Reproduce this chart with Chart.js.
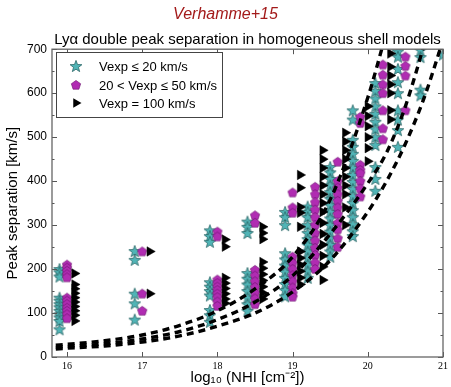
<!DOCTYPE html>
<html><head><meta charset="utf-8">
<script src="https://cdn.jsdelivr.net/npm/chart.js@4/dist/chart.umd.min.js"></script>
<style>html,body{margin:0;padding:0;background:#fff}#wrap{width:451px;height:387px}</style>
</head><body><div id="wrap"><canvas id="c" width="451" height="387"></canvas></div>
<script>
// ---- tick labels ----
const xTicks = [16, 17, 18, 19, 20, 21];
const yTicks = [0, 100, 200, 300, 400, 500, 600, 700];

// ---- Vexp <= 20 km/s (stars): column positions and values ----
const starCols = [15.9, 16.9, 17.9, 18.4, 18.9, 19.2, 19.5, 19.8, 20.1, 20.4, 20.7, 21.0];
const starVals = [
  [200, 193, 183, 135, 128, 120, 113, 105, 97, 90, 82, 63],
  [241, 221, 144, 122, 85],
  [288, 275, 262, 170, 160, 150, 140, 107, 95, 80],
  [308, 296, 282, 191, 178, 165, 150, 135, 120, 105],
  [330, 318, 300, 236, 222, 208, 194, 180, 166, 152, 138],
  [342, 330, 318, 300, 282, 268, 255, 240, 225, 210, 195, 180],
  [432, 420, 405, 390, 375, 360, 345, 330, 315, 300, 285, 270, 255, 240, 228],
  [561, 540, 494, 478, 462, 446, 430, 414, 398, 382, 366, 350, 334, 318, 302, 286, 275],
  [623, 605, 588, 570, 553, 535, 518, 500, 482, 432, 405, 378],
  [695, 683, 655, 625, 600, 561, 540, 516, 478],
  [698, 682, 608, 595],
  [688]
];

// ---- 20 < Vexp <= 50 km/s (pentagons) ----
const pentCols = [16.0, 17.0, 18.0, 18.5, 19.0, 19.3, 19.6, 19.9, 20.2, 20.5];
const pentVals = [
  [210, 203, 196, 188, 181, 135, 128, 120, 112, 105, 97, 88],
  [240, 144, 105],
  [285, 274, 176, 168, 160, 152, 144, 136, 126, 116],
  [322, 305, 198, 185, 172, 159, 146, 133, 120],
  [374, 340, 328, 228, 214, 200, 186, 172, 158, 145, 137],
  [387, 370, 352, 335, 318, 300, 282, 265, 248, 232, 215, 200],
  [444, 400, 385, 370, 355, 340, 325, 305, 290, 270, 250],
  [546, 532, 437, 425, 418, 400, 383, 365],
  [665, 642, 620, 600, 561, 520, 495],
  [683, 662, 640, 561]
];

// ---- Vexp = 100 km/s (triangles) ----
const triCols = [16.1, 17.1, 18.1, 18.6, 19.1, 19.4, 19.7, 20.0, 20.3];
const triVals = [
  [190, 165, 155, 145, 135, 125, 115, 105, 95, 82],
  [240, 144],
  [267, 251, 180, 168, 156, 144, 132, 122],
  [296, 282, 268, 216, 202, 188, 174, 160, 146, 132],
  [414, 385, 341, 328, 296, 240, 225, 210, 195, 180, 165],
  [470, 450, 430, 410, 390, 370, 350, 330, 305, 280, 255, 230, 205, 175],
  [510, 490, 470, 450, 430, 410, 390, 370, 340, 300],
  [570, 548, 525, 500, 475, 445],
  [690, 660, 640, 620, 600, 561, 540]
];

// ---- dashed model curves ----
const curveX = [15.85, 16, 16.5, 17, 17.5, 18, 18.5, 19, 19.5, 20, 20.25, 20.5, 20.75, 21];
const curveA = [27, 29, 37, 50, 72, 105, 155, 228, 358, 590, 740, null, null, null];
const curveB = [22, 24, 30, 41, 58, 85, 125, 185, 280, 395, 465, 570, 710, null];
const curveC = [18, 20, 25, 34, 48, 70, 100, 148, 220, 330, 400, 485, 590, 720];

function pts(cols, vals) {
  const out = [];
  cols.forEach((x, i) => vals[i].forEach(v => out.push({x: x, y: v})));
  return out;
}
function curve(ys) {
  const out = [];
  curveX.forEach((x, i) => { if (ys[i] !== null) out.push({x: x, y: ys[i]}); });
  return out;
}

const STAR_FILL = '#50B4B6', STAR_EDGE = '#2A6666';
const PENT_FILL = '#B02CB2', PENT_EDGE = '#6A106C';

function makeStar() {
  const c = document.createElement('canvas'); c.width = 14; c.height = 14;
  const g = c.getContext('2d'); const cx = 7, cy = 7.6, R = 6.2, r = 2.6;
  g.beginPath();
  for (let i = 0; i < 10; i++) {
    const a = -Math.PI / 2 + i * Math.PI / 5, rr = i % 2 ? r : R;
    g.lineTo(cx + rr * Math.cos(a), cy + rr * Math.sin(a));
  }
  g.closePath(); g.fillStyle = STAR_FILL; g.fill();
  g.strokeStyle = STAR_EDGE; g.lineWidth = 0.8; g.stroke();
  return c;
}
function makePent() {
  const c = document.createElement('canvas'); c.width = 12; c.height = 12;
  const g = c.getContext('2d'); const cx = 6, cy = 6.3, R = 4.9;
  g.beginPath();
  for (let i = 0; i < 5; i++) {
    const a = -Math.PI / 2 + i * 2 * Math.PI / 5;
    g.lineTo(cx + R * Math.cos(a), cy + R * Math.sin(a));
  }
  g.closePath(); g.fillStyle = PENT_FILL; g.fill();
  g.strokeStyle = PENT_EDGE; g.lineWidth = 0.6; g.stroke();
  return c;
}
const starImg = makeStar(), pentImg = makePent();

const lineDs = (ys) => ({
  data: curve(ys), showLine: true, borderColor: '#000', borderWidth: 3.4,
  borderDash: [7, 5], pointRadius: 0, tension: 0.4, cubicInterpolationMode: 'monotone',
  fill: false, order: 0
});

const frameTicks = {
  id: 'frameTicks',
  afterDatasetsDraw(chart) {
    const {ctx, chartArea: a, scales: {x, y}} = chart;
    ctx.save();
    ctx.strokeStyle = '#555'; ctx.lineWidth = 1;
    ctx.beginPath();
    xTicks.forEach(v => {
      const px = Math.round(x.getPixelForValue(v)) + 0.5;
      ctx.moveTo(px, a.bottom); ctx.lineTo(px, a.bottom - 5);
      ctx.moveTo(px, a.top); ctx.lineTo(px, a.top + 5);
    });
    for (let v = 0; v <= 700; v += 50) {
      const py = Math.round(y.getPixelForValue(v)) + 0.5;
      const len = v % 100 === 0 ? 5 : 2.5;
      ctx.moveTo(a.left, py); ctx.lineTo(a.left + len, py);
      ctx.moveTo(a.right, py); ctx.lineTo(a.right - len, py);
    }
    ctx.stroke();
    ctx.strokeStyle = '#666'; ctx.lineWidth = 1.3;
    ctx.strokeRect(a.left, a.top, a.right - a.left, a.bottom - a.top);
    // legend
    const lx = 56, ly = 52, lw = 166, lh = 65;
    ctx.fillStyle = '#fff'; ctx.fillRect(lx, ly, lw, lh);
    ctx.strokeStyle = '#444'; ctx.lineWidth = 1; ctx.strokeRect(lx + 0.5, ly + 0.5, lw, lh);
    const rows = [
      {t: 'Vexp \u2264 20 km/s', y: 66, m: 'star'},
      {t: '20 < Vexp \u2264 50 km/s', y: 85, m: 'pent'},
      {t: 'Vexp = 100 km/s', y: 103, m: 'tri'}
    ];
    ctx.font = '13px "Liberation Sans", Arial, sans-serif';
    ctx.textBaseline = 'middle'; ctx.textAlign = 'left';
    rows.forEach(r => {
      if (r.m === 'star') ctx.drawImage(starImg, 76 - 7, r.y - 7);
      else if (r.m === 'pent') ctx.drawImage(pentImg, 76 - 6, r.y - 6);
      else Chart.helpers.drawPoint(ctx, {pointStyle: 'triangle', radius: 5.5, rotation: 90, borderWidth: 0}, 76, r.y);
      ctx.fillStyle = '#000';
      ctx.fillText(r.t, 99, r.y + 1);
    });
    ctx.restore();
  }
};

new Chart(document.getElementById('c'), {
  type: 'scatter',
  data: {
    datasets: [
      lineDs(curveA), lineDs(curveB), lineDs(curveC),
      {label: 'Vexp = 100 km/s', data: pts(triCols, triVals), pointStyle: 'triangle', rotation: 90,
       pointRadius: 5.5, backgroundColor: '#000', borderColor: '#000', borderWidth: 0.5, order: 1},
      {label: '20 < Vexp \u2264 50 km/s', data: pts(pentCols, pentVals), pointStyle: pentImg,
       pointRadius: 5, order: 2},
      {label: 'Vexp \u2264 20 km/s', data: pts(starCols, starVals), pointStyle: starImg,
       pointRadius: 6, order: 3}
    ]
  },
  options: {
    responsive: false, animation: false, events: [],
    layout: {padding: {left: 4, right: 4, top: 0, bottom: 0}},
    plugins: {
      legend: {display: false}, tooltip: {enabled: false},
      title: {display: true, text: 'Verhamme+15', color: '#A31A1A',
        font: {family: '"Liberation Sans", Arial, sans-serif', size: 16, style: 'italic', weight: 'normal'},
        padding: {top: 5, bottom: 3}},
      subtitle: {display: true, fullSize: false, text: 'Ly\u03B1 double peak separation in homogeneous shell models', color: '#000',
        font: {family: '"Liberation Sans", Arial, sans-serif', size: 15, weight: 'normal'},
        padding: {top: 4, bottom: 0}}
    },
    scales: {
      x: {
        type: 'linear', min: 15.8, max: 21,
        afterBuildTicks: s => { s.ticks = xTicks.map(v => ({value: v})); },
        afterFit: s => { s.height = 30; },
        grid: {display: false, drawTicks: false}, border: {display: false},
        ticks: {padding: 3, color: '#000', font: {family: '"Liberation Serif", serif', size: 10}},
        title: {display: true, text: 'log\u2081\u2080 (NHI [cm\u207B\u00B2])', color: '#000', padding: 0,
          font: {family: '"Liberation Sans", Arial, sans-serif', size: 15}}
      },
      y: {
        type: 'linear', min: 0, max: 700,
        afterBuildTicks: s => { s.ticks = yTicks.map(v => ({value: v})); },
        afterFit: s => { s.width = 48; },
        grid: {display: false, drawTicks: false}, border: {display: false},
        ticks: {padding: 5, color: '#000', font: {family: '"Liberation Sans", Arial, sans-serif', size: 12}},
        title: {display: true, text: 'Peak separation [km/s]', color: '#000', padding: 0,
          font: {family: '"Liberation Sans", Arial, sans-serif', size: 15}}
      }
    }
  },
  plugins: [frameTicks]
});
</script></body></html>
